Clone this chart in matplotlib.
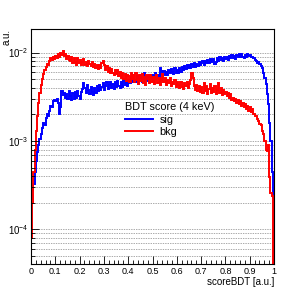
import numpy as np
import matplotlib.pyplot as plt
from matplotlib.ticker import LogLocator, MultipleLocator, NullFormatter

# bordas dos bins (200 bins entre 0 e 1)
bordas = np.linspace(0, 1, 201)

# sinal (azul)
sig = [
    2.2e-4, 2.8e-4, 3.3e-4, 4.5e-4, 6.0e-4, 7.5e-4, 9.0e-4, 1.05e-3, 1.2e-3, 1.4e-3,
    1.6e-3, 1.5e-3, 1.8e-3, 2.0e-3, 1.9e-3, 2.2e-3, 2.5e-3, 2.4e-3, 2.8e-3, 2.9e-3,
    2.8e-3, 3.0e-3, 2.7e-3, 2.0e-3, 2.4e-3, 3.7e-3, 3.3e-3, 3.5e-3, 3.1e-3, 3.4e-3,
    3.0e-3, 3.7e-3, 3.2e-3, 2.9e-3, 3.5e-3, 3.0e-3, 3.6e-3, 3.1e-3, 3.7e-3, 3.2e-3,
    3.0e-3, 3.6e-3, 3.9e-3, 4.5e-3, 4.0e-3, 3.5e-3, 4.3e-3, 3.8e-3, 3.4e-3, 4.1e-3,
    3.6e-3, 3.3e-3, 4.0e-3, 3.5e-3, 4.2e-3, 3.7e-3, 4.3e-3, 3.8e-3, 4.1e-3, 4.5e-3,
    3.8e-3, 4.2e-3, 4.6e-3, 3.9e-3, 4.3e-3, 4.7e-3, 4.0e-3, 4.4e-3, 3.9e-3, 4.6e-3,
    4.1e-3, 4.8e-3, 4.2e-3, 4.0e-3, 4.7e-3, 4.1e-3, 5.0e-3, 4.3e-3, 4.9e-3, 4.2e-3,
    4.9e-3, 4.5e-3, 5.3e-3, 4.7e-3, 5.6e-3, 4.9e-3, 4.6e-3, 5.4e-3, 4.8e-3, 5.2e-3,
    5.5e-3, 4.7e-3, 5.3e-3, 5.8e-3, 4.9e-3, 5.4e-3, 4.8e-3, 5.6e-3, 5.0e-3, 5.5e-3,
    4.9e-3, 5.4e-3, 5.8e-3, 5.1e-3, 5.6e-3, 5.0e-3, 6.7e-3, 6.2e-3, 5.7e-3, 6.2e-3,
    5.6e-3, 6.1e-3, 5.5e-3, 6.4e-3, 5.8e-3, 6.5e-3, 6.0e-3, 5.7e-3, 6.6e-3, 5.9e-3,
    6.4e-3, 5.8e-3, 6.7e-3, 6.1e-3, 6.9e-3, 6.4e-3, 7.1e-3, 6.5e-3, 7.3e-3, 6.7e-3,
    7.2e-3, 6.6e-3, 7.4e-3, 6.8e-3, 7.6e-3, 6.9e-3, 7.5e-3, 7.0e-3, 7.8e-3, 7.2e-3,
    7.7e-3, 8.0e-3, 7.3e-3, 8.1e-3, 7.6e-3, 8.3e-3, 7.7e-3, 8.4e-3, 7.8e-3, 8.2e-3,
    8.5e-3, 7.5e-3, 7.8e-3, 8.6e-3, 8.0e-3, 8.8e-3, 8.2e-3, 8.7e-3, 8.1e-3, 8.9e-3,
    8.4e-3, 9.0e-3, 8.3e-3, 9.2e-3, 8.6e-3, 9.4e-3, 8.7e-3, 9.1e-3, 8.5e-3, 9.3e-3,
    8.8e-3, 9.5e-3, 8.9e-3, 9.7e-3, 9.0e-3, 8.6e-3, 9.4e-3, 8.9e-3, 9.6e-3, 9.1e-3,
    9.4e-3, 8.9e-3, 9.0e-3, 8.6e-3, 8.2e-3, 8.0e-3, 7.7e-3, 7.8e-3, 7.4e-3, 7.0e-3,
    6.6e-3, 5.8e-3, 5.2e-3, 4.4e-3, 3.4e-3, 2.6e-3, 1.6e-3, 1.0e-3, 4.5e-4, 2.4e-4,
]

# fundo (vermelho)
bkg = [
    8.0e-5, 2.0e-4, 4.5e-4, 8.0e-4, 1.3e-3, 1.9e-3, 2.7e-3, 3.5e-3, 4.3e-3, 5.0e-3,
    5.7e-3, 6.3e-3, 6.8e-3, 7.4e-3, 7.2e-3, 8.1e-3, 8.6e-3, 8.2e-3, 9.0e-3, 8.4e-3,
    9.2e-3, 8.7e-3, 9.6e-3, 9.0e-3, 1.0e-2, 9.4e-3, 1.05e-2, 9.1e-3, 9.5e-3, 8.5e-3,
    9.2e-3, 8.2e-3, 8.0e-3, 9.0e-3, 7.7e-3, 8.7e-3, 7.9e-3, 7.3e-3, 8.6e-3, 7.6e-3,
    8.3e-3, 7.3e-3, 7.8e-3, 8.5e-3, 7.2e-3, 7.8e-3, 7.0e-3, 8.0e-3, 7.4e-3, 7.1e-3,
    7.8e-3, 6.8e-3, 7.5e-3, 6.7e-3, 7.3e-3, 6.5e-3, 7.2e-3, 6.7e-3, 7.7e-3, 8.0e-3,
    7.2e-3, 6.4e-3, 7.0e-3, 6.1e-3, 6.6e-3, 5.8e-3, 6.5e-3, 5.9e-3, 5.6e-3, 6.3e-3,
    5.7e-3, 6.4e-3, 5.4e-3, 6.0e-3, 5.2e-3, 5.9e-3, 5.0e-3, 5.7e-3, 4.8e-3, 5.6e-3,
    5.4e-3, 4.6e-3, 5.8e-3, 5.0e-3, 5.6e-3, 4.7e-3, 5.9e-3, 4.9e-3, 4.4e-3, 5.5e-3,
    4.8e-3, 5.7e-3, 4.5e-3, 5.3e-3, 4.3e-3, 5.6e-3, 5.0e-3, 4.5e-3, 5.5e-3, 4.7e-3,
    5.3e-3, 4.4e-3, 5.0e-3, 5.6e-3, 4.5e-3, 5.2e-3, 4.3e-3, 4.9e-3, 5.7e-3, 4.7e-3,
    5.2e-3, 4.3e-3, 4.9e-3, 4.5e-3, 5.1e-3, 4.2e-3, 4.7e-3, 4.4e-3, 4.9e-3, 4.1e-3,
    4.6e-3, 4.3e-3, 4.0e-3, 4.6e-3, 4.1e-3, 3.9e-3, 4.5e-3, 4.2e-3, 4.7e-3, 4.0e-3,
    4.4e-3, 4.9e-3, 5.8e-3, 5.2e-3, 4.2e-3, 3.8e-3, 4.3e-3, 3.7e-3, 4.2e-3, 3.6e-3,
    4.1e-3, 3.5e-3, 4.5e-3, 3.7e-3, 4.2e-3, 3.4e-3, 3.9e-3, 4.4e-3, 3.5e-3, 4.0e-3,
    3.6e-3, 4.2e-3, 3.4e-3, 3.8e-3, 4.5e-3, 3.5e-3, 4.0e-3, 3.3e-3, 3.8e-3, 3.4e-3,
    3.6e-3, 3.2e-3, 3.5e-3, 3.1e-3, 3.4e-3, 2.9e-3, 3.1e-3, 2.8e-3, 3.0e-3, 2.7e-3,
    2.9e-3, 2.6e-3, 2.8e-3, 2.5e-3, 2.7e-3, 2.4e-3, 2.6e-3, 2.3e-3, 2.5e-3, 2.2e-3,
    2.4e-3, 2.1e-3, 2.3e-3, 2.0e-3, 1.9e-3, 1.9e-3, 1.75e-3, 1.7e-3, 1.55e-3, 1.5e-3,
    1.3e-3, 1.2e-3, 1.0e-3, 8.0e-4, 7.8e-4, 8.9e-4, 3.9e-4, 2.6e-4, 2.4e-4, 0.0,
]

plt.rcParams['font.family'] = 'Liberation Sans'

fig = plt.figure(figsize=(3.05, 2.94), dpi=100)
ax = fig.add_axes([0.1016, 0.102, 0.7968, 0.799])

piso = 1e-7
ax.stairs(np.maximum(sig, piso), bordas, baseline=piso, color='#0000ff', lw=1.4, label='sig')
ax.stairs(np.maximum(bkg, piso), bordas, baseline=piso, color='#ff0000', lw=1.4, label='bkg')

ax.set_yscale('log')
ax.set_xlim(0, 1)
ax.set_ylim(4.06e-5, 1.84e-2)

# grade horizontal tracejada em todos os ticks de y
for exp in range(-5, -1):
    for m in range(1, 10):
        v = m * 10.0 ** exp
        if 4.06e-5 < v < 1.84e-2:
            ax.axhline(v, color='#888888', lw=0.5, ls=(0, (2, 1.5)), zorder=0)

ax.xaxis.set_major_locator(MultipleLocator(0.1))
ax.xaxis.set_minor_locator(MultipleLocator(0.02))
ax.yaxis.set_major_locator(LogLocator(base=10))
ax.yaxis.set_minor_locator(LogLocator(base=10, subs=np.arange(2, 10)))
ax.yaxis.set_minor_formatter(NullFormatter())
ax.set_xticks(np.arange(0, 1.01, 0.1))
ax.set_xticklabels(['0', '0.1', '0.2', '0.3', '0.4', '0.5', '0.6', '0.7', '0.8', '0.9', '1'])

ax.tick_params(which='both', direction='in', labelsize=6.5, width=0.6, pad=2)
ax.tick_params(axis='y', labelsize=7)
ax.tick_params(which='major', length=6)
ax.tick_params(which='minor', length=3)
for s in ax.spines.values():
    s.set_linewidth(0.8)

ax.set_xlabel('scoreBDT [a.u.]', fontsize=7, loc='right', labelpad=1)
fig.text(0.004, 0.901, 'a.u.', rotation=90, ha='left', va='top', fontsize=7)

leg = ax.legend(title='BDT score (4 keV)', loc='upper left', bbox_to_anchor=(0.355, 0.72),
                frameon=False, fontsize=7.8, title_fontsize=7.8, handlelength=2.6,
                handletextpad=0.6, labelspacing=0.2, borderpad=0.2)
leg._legend_box.align = 'left'

plt.savefig('out.png', dpi=100)
